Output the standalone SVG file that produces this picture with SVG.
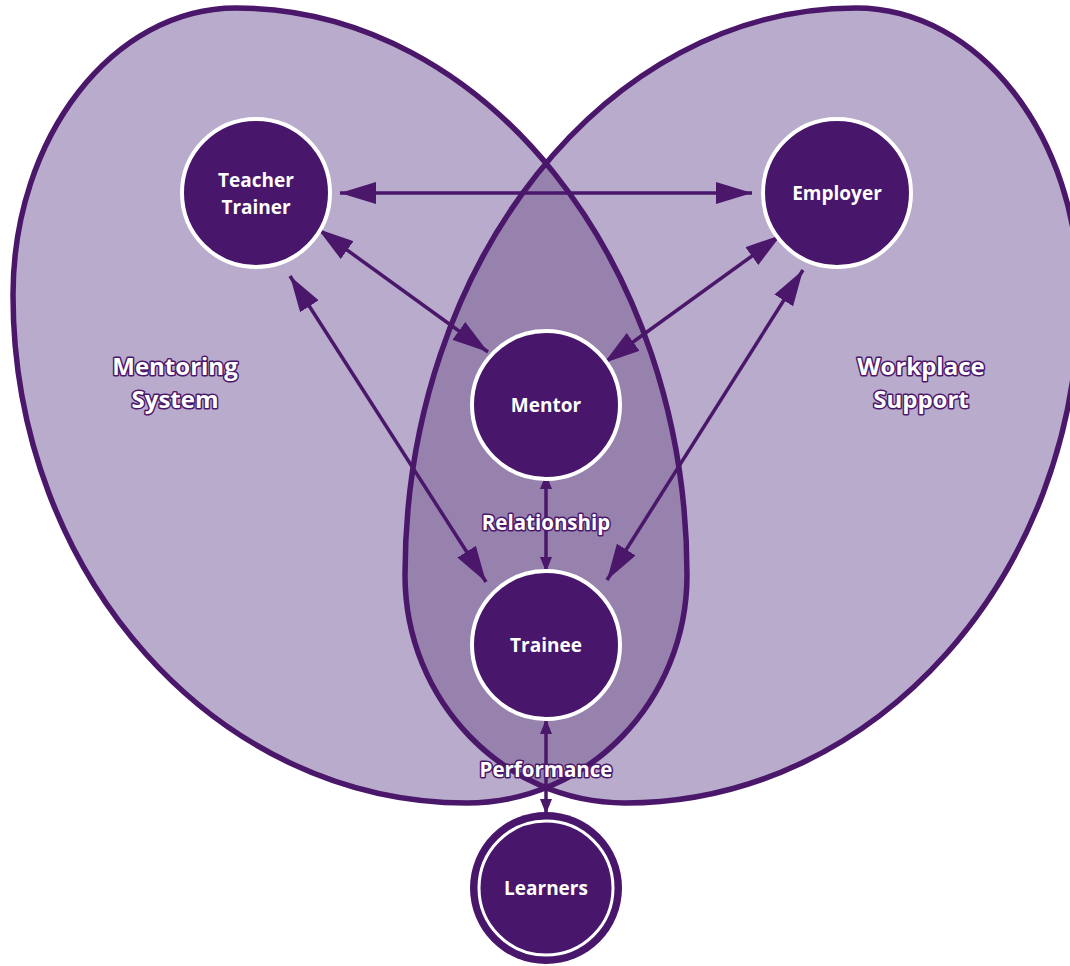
<svg xmlns="http://www.w3.org/2000/svg" width="1070" height="966" viewBox="0 0 1070 966">
<style>
.lobe{fill:#b9abcb;stroke:none}
.lobe-line{fill:none;stroke:#4a176b;stroke-width:5.5}
.node{fill:#48166b;stroke:#ffffff;stroke-width:4}
.ntext{font-family:"Open Sans","Liberation Sans",sans-serif;font-weight:700;font-size:19px;fill:#ffffff;text-anchor:middle}
.label{font-family:"Open Sans","Liberation Sans",sans-serif;font-weight:700;fill:#ffffff;stroke:#4a176b;stroke-width:3;paint-order:stroke;stroke-linejoin:round;text-anchor:middle}
.conn{stroke:#4a176b;stroke-width:3.5;fill:none}
</style>
<defs>
<path id="lobeL" d="M236,8 C485,8 687,262 687,575 C687,701 588,803 467,803 C216,803 13,575 13,295 C13,137 113,8 236,8 Z"/>
<clipPath id="clipL"><use href="#lobeL"/></clipPath>
<marker id="big" viewBox="0 0 36 22" refX="36" refY="11" markerWidth="36" markerHeight="22" markerUnits="userSpaceOnUse" orient="auto-start-reverse">
<path d="M0,0 L36,11 L0,22 Z" fill="#4a176b"/>
</marker>
<marker id="small" viewBox="0 0 15 12" refX="15" refY="6" markerWidth="15" markerHeight="12" markerUnits="userSpaceOnUse" orient="auto-start-reverse">
<path d="M0,0 L15,6 L0,12 Z" fill="#4a176b"/>
</marker>
</defs>
<rect width="1070" height="966" fill="#ffffff"/>
<g id="mentoring-system">
<use href="#lobeL" class="lobe"/>
</g>
<g id="workplace-support">
<use href="#lobeL" class="lobe" transform="translate(1092,0) scale(-1,1)"/>
</g>
<g id="overlap">
<g clip-path="url(#clipL)"><use href="#lobeL" fill="#9782ae" transform="translate(1092,0) scale(-1,1)"/></g>
<use href="#lobeL" class="lobe-line"/>
<use href="#lobeL" class="lobe-line" transform="translate(1092,0) scale(-1,1)"/>
</g>
<g id="region-labels">
<text class="label" x="175" y="375" font-size="24">Mentoring</text>
<text class="label" x="175" y="408" font-size="24">System</text>
<text class="label" x="921" y="375" font-size="24">Workplace</text>
<text class="label" x="921" y="408" font-size="24">Support</text>
</g>
<g id="connectors">
<line class="conn" x1="340" y1="193" x2="752" y2="193" marker-start="url(#big)" marker-end="url(#big)"/>
<line class="conn" x1="318" y1="229" x2="488" y2="352" marker-start="url(#big)" marker-end="url(#big)"/>
<line class="conn" x1="290" y1="276" x2="486" y2="582" marker-start="url(#big)" marker-end="url(#big)"/>
<line class="conn" x1="781" y1="235" x2="604" y2="363" marker-start="url(#big)" marker-end="url(#big)"/>
<line class="conn" x1="803" y1="270" x2="607" y2="580" marker-start="url(#big)" marker-end="url(#big)"/>
<line class="conn" x1="546" y1="474" x2="546" y2="572" marker-start="url(#small)" marker-end="url(#small)"/>
<line class="conn" x1="546" y1="719" x2="546" y2="814" marker-start="url(#small)" marker-end="url(#small)"/>
<text class="label" x="546" y="530" font-size="20.5">Relationship</text>
<text class="label" x="546" y="777" font-size="20.5">Performance</text>
</g>
<g id="teacher-trainer">
<circle class="node" cx="256" cy="193" r="74"/>
<text class="ntext" x="256" y="187">Teacher</text>
<text class="ntext" x="256" y="214">Trainer</text>
</g>
<g id="employer">
<circle class="node" cx="837" cy="193" r="74"/>
<text class="ntext" x="837" y="200">Employer</text>
</g>
<g id="mentor">
<circle class="node" cx="546" cy="405" r="74"/>
<text class="ntext" x="546" y="412">Mentor</text>
</g>
<g id="trainee">
<circle class="node" cx="546" cy="645" r="74"/>
<text class="ntext" x="546" y="652">Trainee</text>
</g>
<g id="learners">
<circle cx="546" cy="888" r="76" fill="#48166b"/>
<circle cx="546" cy="888" r="67" fill="none" stroke="#ffffff" stroke-width="3"/>
<text class="ntext" x="546" y="895">Learners</text>
</g>
</svg>
